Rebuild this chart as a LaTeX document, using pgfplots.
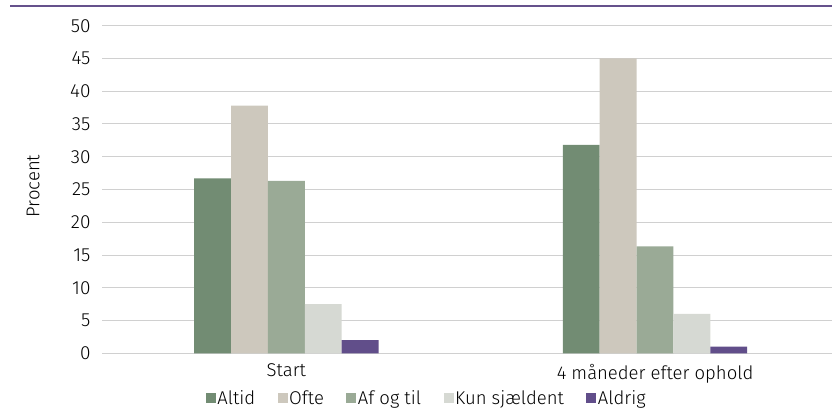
\documentclass[border=0pt]{standalone}
\usepackage{fontspec}
\setmainfont{Fira Sans}[UprightFont=* Light]
\usepackage{pgfplots}
\pgfplotsset{compat=1.18}
\definecolor{altid}{HTML}{728C73}
\definecolor{ofte}{HTML}{CDC8BD}
\definecolor{afogtil}{HTML}{9AAA96}
\definecolor{kun}{HTML}{D6D9D3}
\definecolor{aldrig}{HTML}{614E8A}
\definecolor{gridc}{HTML}{D0D0D0}
\definecolor{topline}{HTML}{65518C}
\begin{document}
\begin{tikzpicture}[x=1pt,y=1pt]
\path[use as bounding box, clip] (0,0) rectangle (832,409);
\draw[topline, line width=2pt] (10,403.3) -- (832,403.3);
\begin{axis}[
    at={(102pt,55.7pt)}, anchor=south west,
    scale only axis,
    width=730pt, height=327.6pt,
    ybar=0pt, bar width=0.1,
    xmin=-0.5, xmax=1.48,
    ymin=0, ymax=50,
    xtick={0,1},
    xticklabels={Start, 4 måneder efter ophold},
    ytick={0,5,...,50},
    /pgf/number format/assume math mode=true,
    font=\fontsize{18.5}{21}\selectfont,
    yticklabel style={font=\fontsize{19}{21}\selectfont, anchor=east, xshift=-8pt},
    tick style={draw=none},
    ymajorgrids=true,
    grid style={gridc, line width=1pt},
    axis x line*=bottom,
    axis y line*=left,
    y axis line style={draw=none},
    x axis line style={gridc, line width=1pt, -},
    xticklabel style={anchor=north, yshift=-3pt},
    ylabel={Procent},
    ylabel style={at={(axis description cs:-0.0945,0.5107)}, anchor=center},
    legend columns=-1,
    legend style={at={(axis description cs:0.4445,-0.1364)}, anchor=center, draw=none, fill=none,
        /tikz/every even column/.append style={column sep=21pt}, inner sep=0pt,
        nodes={inner sep=1.5pt}},
    legend image code/.code={\fill[#1] (0pt,-5pt) rectangle (10pt,5pt);},
    clip=false,
]
\addplot[fill=altid, draw=none] coordinates {(0,26.7) (1,31.8)};
\addlegendentry{Altid}
\addplot[fill=ofte, draw=none] coordinates {(0,37.8) (1,45.0)};
\addlegendentry{Ofte}
\addplot[fill=afogtil, draw=none] coordinates {(0,26.3) (1,16.3)};
\addlegendentry{Af og til}
\addplot[fill=kun, draw=none] coordinates {(0,7.5) (1,6.0)};
\addlegendentry{Kun sjældent}
\addplot[fill=aldrig, draw=none] coordinates {(0,2.0) (1,1.0)};
\addlegendentry{Aldrig}
\end{axis}
\end{tikzpicture}
\end{document}
